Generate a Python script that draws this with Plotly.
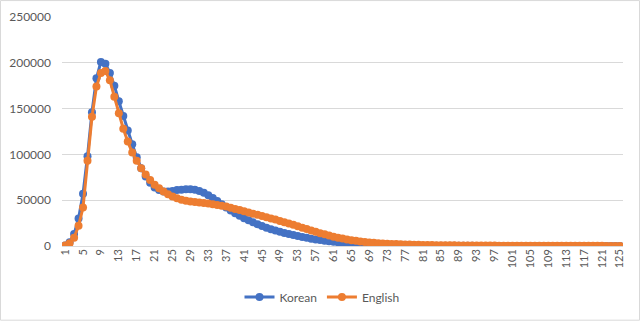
import plotly.graph_objects as go

# Categories 1..125
categories = list(range(1, 126))

# Series values
korean = [500, 4000, 13000, 30000, 57000, 98000, 146000, 183000, 201000, 199000,
          189000, 175000, 158000, 142000, 126000, 111000, 97000, 85000, 76000, 69000,
          64000, 61000, 59500, 59500, 60000, 61000, 61500, 62000, 62000, 61500,
          60000, 58000, 55500, 52500, 49000, 45500, 42000, 38800, 35800, 33000,
          30400, 28000, 25800, 23700, 21800, 20000, 18400, 16900, 15500, 14200,
          13000, 11900, 10800, 9800, 8900, 8000, 7200, 6500, 5800, 5200,
          4600, 4100, 3600, 3200, 2800, 2500, 2200, 1950, 1700, 1500,
          1320, 1160, 1020, 900, 800, 710, 630, 560, 500, 450,
          400, 360, 325, 295, 265, 240, 220, 200, 180, 165,
          150, 140, 130, 120, 110, 100, 95, 90, 85, 80,
          75, 70, 68, 65, 62, 60, 58, 55, 52, 50,
          48, 46, 44, 42, 40, 38, 36, 35, 34, 33,
          32, 31, 30, 29, 28]

english = [500, 3000, 9000, 22000, 42000, 93000, 141000, 174000, 189000, 191000,
           181000, 163000, 145000, 128000, 114000, 102000, 93000, 85000, 78000, 72000,
           67000, 63000, 59500, 56500, 54000, 52000, 50500, 49500, 48700, 48000,
           47500, 47000, 46300, 45600, 44800, 44000, 43000, 41800, 40500, 39200,
           37900, 36600, 35300, 34000, 32700, 31400, 30100, 28800, 27400, 26000,
           24600, 23200, 21500, 20000, 18500, 17000, 15500, 14000, 12700, 11400,
           10200, 9100, 8100, 7200, 6400, 5700, 5000, 4400, 3900, 3500,
           3100, 2800, 2500, 2250, 2050, 1850, 1700, 1550, 1400, 1300,
           1200, 1100, 1020, 950, 880, 820, 770, 720, 670, 630,
           590, 550, 520, 490, 460, 430, 410, 390, 370, 350,
           330, 310, 300, 280, 270, 260, 250, 240, 230, 220,
           210, 200, 190, 185, 180, 170, 165, 160, 150, 145,
           140, 135, 130, 125, 120]

x_ticks = list(range(1, 126, 4))
y_ticks = [0, 50000, 100000, 150000, 200000, 250000]

font_col = "#595959"
fig = go.Figure()

fig.add_trace(go.Scatter(x=categories, y=korean, name="Korean", mode="lines+markers",
                         line=dict(color="#4472C4", width=3),
                         marker=dict(color="#4472C4", size=8, symbol="circle")))
fig.add_trace(go.Scatter(x=categories, y=english, name="English", mode="lines+markers",
                         line=dict(color="#ED7D31", width=3),
                         marker=dict(color="#ED7D31", size=8, symbol="circle")))

L, R, T, B = 62, 17, 17, 75
W, H = 640, 322
pw, ph = W - L - R, H - T - B

fig.update_layout(
    width=W, height=H,
    margin=dict(l=L, r=R, t=T, b=B),
    paper_bgcolor="white", plot_bgcolor="white",
    font=dict(family="Lato, Open Sans, sans-serif", size=12, color=font_col),
    showlegend=True,
    legend=dict(orientation="h", x=(322 - L) / pw, xanchor="center", y=(247 - 297) / ph,
                yanchor="middle", font=dict(size=12, color=font_col)),
    xaxis=dict(range=[0.3, 125.7], tickmode="array", tickvals=x_ticks,
               ticktext=[str(v) for v in x_ticks], tickangle=-90,
               tickfont=dict(size=11, color=font_col), automargin=False,
               showgrid=False, zeroline=False, showline=False, ticks=""),
    yaxis=dict(range=[0, 250000], tickmode="array", tickvals=y_ticks,
               ticktext=[str(v) for v in y_ticks], automargin=False,
               tickfont=dict(size=12, color=font_col),
               showgrid=True, gridcolor="#D9D9D9", gridwidth=1,
               zeroline=True, zerolinecolor="#D9D9D9", zerolinewidth=1,
               showline=False, ticks="", ticklabelstandoff=10),
    shapes=[dict(type="rect", xref="paper", yref="paper",
                 x0=(0.5 - L) / pw, x1=(W - 0.5 - L) / pw,
                 y0=-(B - 0.5) / ph, y1=(ph + T - 0.5) / ph,
                 line=dict(color="#D9D9D9", width=1))],
)

# page body has a default 8px margin, drop it so the figure fills the window
fig.write_html("out.html", config={"displayModeBar": False},
               post_script="document.body.style.margin='0';")
